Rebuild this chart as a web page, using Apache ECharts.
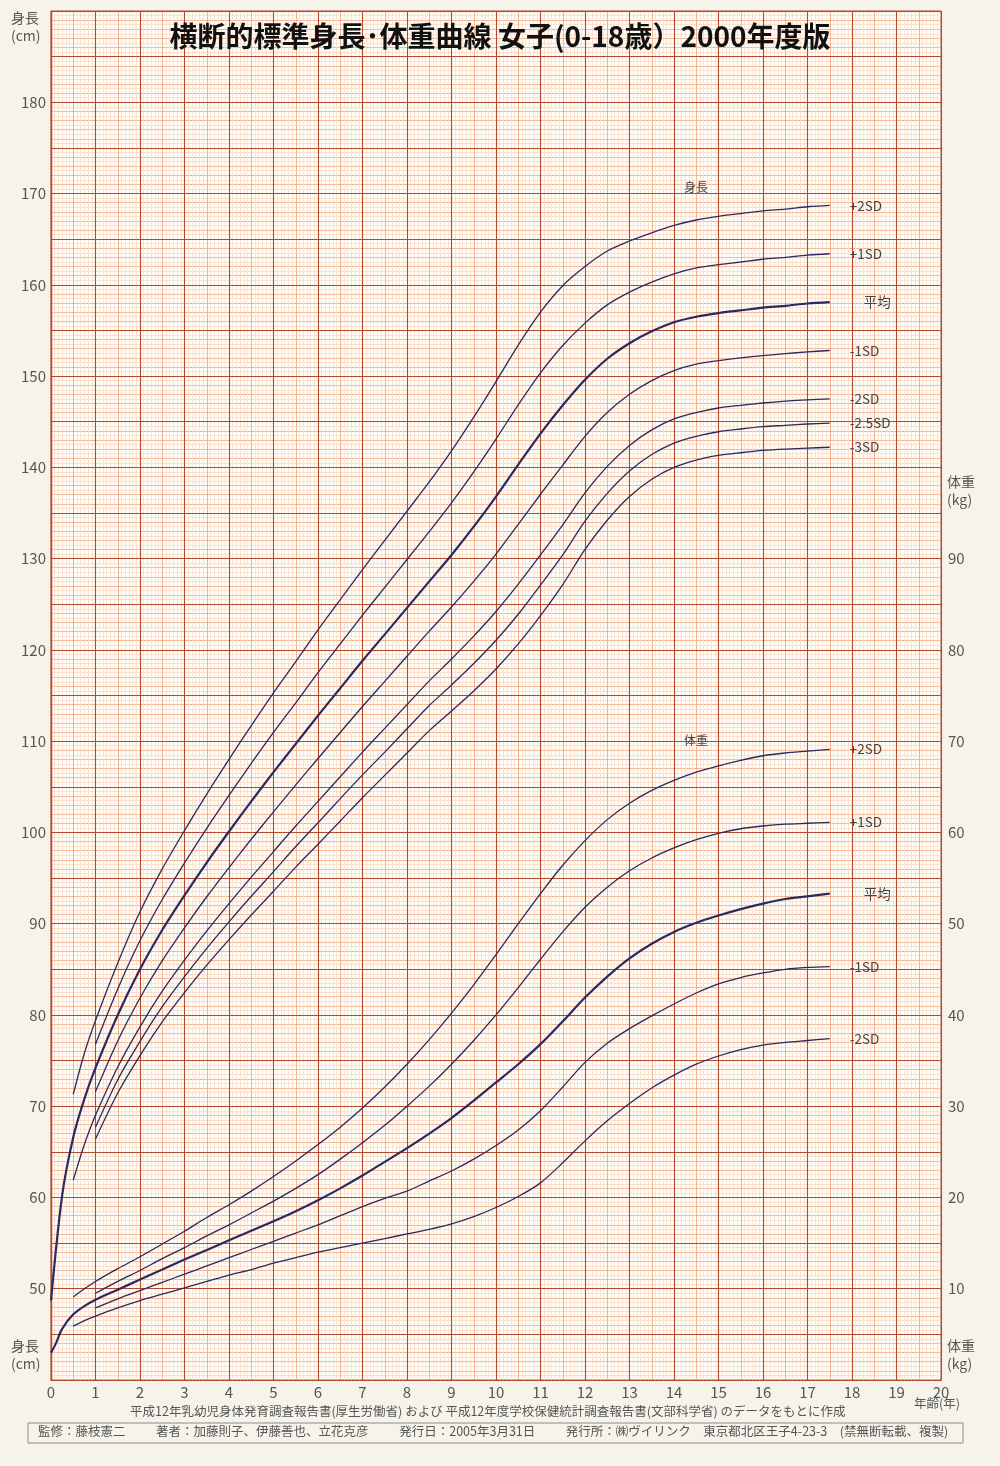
<!DOCTYPE html>
<html><head><meta charset="utf-8">
<script src="https://cdn.jsdelivr.net/npm/echarts@6/dist/echarts.min.js"></script>
<style>html,body{margin:0;padding:0;background:#f6f4ea;}#c{width:1000px;height:1466px;}</style>
</head><body><div id="c"></div>
<script>
// ---------- DATA ----------
const heightAges = [0,0.25,0.5,0.75,1,1.5,2,2.5,3,3.5,4,4.5,5,5.5,6,6.5,7,7.5,8,8.5,9,9.5,10,10.5,11,11.5,12,12.5,13,13.5,14,14.5,15,15.5,16,16.5,17,17.5];
const hP2  = [null,null,71.3,75.8,79.4,85.7,91.3,96.0,100.2,104.2,108.0,111.7,115.3,118.7,122.2,125.5,128.8,132.0,135.2,138.4,141.8,145.5,149.4,153.4,157.0,159.9,162.0,163.7,164.8,165.7,166.5,167.1,167.5,167.8,168.1,168.3,168.55,168.7];
const hP1  = [null,null,null,null,76.8,82.85,88.15,92.65,96.65,100.45,104.05,107.55,110.95,114.2,117.5,120.65,123.8,126.85,129.9,132.95,136.1,139.5,143.1,146.85,150.35,153.35,155.8,157.8,159.2,160.3,161.2,161.85,162.2,162.5,162.8,163.0,163.25,163.4];
const hM   = [48.7,60.2,66.6,70.8,74.2,80.0,85.0,89.3,93.1,96.7,100.1,103.4,106.6,109.7,112.8,115.8,118.8,121.7,124.6,127.5,130.4,133.5,136.8,140.3,143.7,146.8,149.6,151.9,153.6,154.9,155.9,156.5,156.9,157.2,157.5,157.7,157.95,158.1];
const hM1  = [null,null,null,null,71.6,77.15,81.85,85.95,89.55,92.95,96.15,99.25,102.25,105.2,108.1,110.95,113.8,116.55,119.3,122.05,124.7,127.5,130.5,133.75,137.05,140.25,143.4,146.0,148.0,149.5,150.6,151.3,151.7,152.0,152.25,152.45,152.65,152.8];
const hM2  = [null,null,61.9,65.8,69.0,74.3,78.7,82.6,86.0,89.2,92.2,95.1,97.9,100.7,103.4,106.1,108.8,111.4,114.0,116.6,119.0,121.5,124.2,127.2,130.4,133.7,137.2,140.1,142.4,144.1,145.3,146.0,146.5,146.8,147.05,147.25,147.4,147.5];
const hM25 = [null,null,null,null,67.7,72.9,77.1,80.9,84.2,87.3,90.2,93.0,95.7,98.45,101.05,103.7,106.3,108.8,111.35,113.9,116.15,118.5,121.05,123.9,127.1,130.4,134.1,137.15,139.6,141.4,142.65,143.4,143.9,144.2,144.45,144.6,144.75,144.85];
const hM3  = [null,null,null,null,66.4,71.45,75.55,79.25,82.45,85.45,88.25,90.95,93.55,96.2,98.7,101.25,103.8,106.25,108.7,111.15,113.3,115.5,117.9,120.65,123.75,127.15,131.0,134.2,136.8,138.7,140.0,140.8,141.3,141.6,141.85,142.0,142.1,142.2];
const heightNames = ['+2SD','+1SD','平均','-1SD','-2SD','-2.5SD','-3SD'];

const weightAges = [0,0.1,0.25,0.5,0.75,1,1.5,2,2.5,3,3.5,4,4.5,5,5.5,6,6.5,7,7.5,8,8.5,9,9.5,10,10.5,11,11.5,12,12.5,13,13.5,14,14.5,15,15.5,16,16.5,17,17.5];
const wP2 = [null,null,null,9.1,10.0,10.8,12.2,13.5,14.9,16.3,17.8,19.2,20.7,22.3,24.0,25.8,27.7,29.8,32.1,34.6,37.3,40.2,43.3,46.6,50.0,53.3,56.4,59.1,61.4,63.2,64.6,65.7,66.6,67.3,67.9,68.4,68.7,68.9,69.1];
const wP1 = [null,null,null,null,null,9.5,10.8,12.0,13.3,14.5,15.8,17.0,18.3,19.6,21.0,22.5,24.2,26.0,27.9,30.0,32.2,34.6,37.2,40.0,43.0,46.1,49.1,51.8,54.0,55.8,57.2,58.3,59.2,59.9,60.4,60.7,60.9,61.0,61.1];
const wM  = [3.0,3.9,5.6,7.2,8.1,8.8,9.9,11.0,12.1,13.2,14.25,15.3,16.35,17.4,18.5,19.7,21.0,22.4,23.9,25.4,27.0,28.7,30.6,32.6,34.6,36.8,39.3,41.9,44.2,46.2,47.8,49.1,50.1,50.9,51.6,52.2,52.7,53.0,53.3];
const wM1 = [null,null,null,null,null,7.9,8.9,9.8,10.7,11.6,12.5,13.4,14.3,15.2,16.1,17.0,18.0,19.0,19.9,20.7,21.8,22.9,24.2,25.7,27.4,29.5,32.1,34.8,36.9,38.5,39.9,41.2,42.4,43.4,44.1,44.6,45.0,45.2,45.3];
const wM2 = [null,null,null,5.9,6.5,7.0,7.9,8.7,9.4,10.1,10.8,11.5,12.1,12.8,13.4,14.0,14.5,15.0,15.5,16.0,16.5,17.1,17.9,18.9,20.1,21.6,23.8,26.2,28.4,30.3,32.0,33.4,34.6,35.5,36.2,36.7,37.0,37.2,37.4];
const weightNames = ['+2SD','+1SD','平均','-1SD','-2SD'];

const xTicks = [0,1,2,3,4,5,6,7,8,9,10,11,12,13,14,15,16,17,18,19,20];
const heightTickLabels = [50,60,70,80,90,100,110,120,130,140,150,160,170,180];
const weightTickLabels = [10,20,30,40,50,60,70,80,90];

// ---------- CHART ----------
const FONT = '"Noto Sans CJK JP","Noto Sans",sans-serif';
const LINE = '#2b2a5e';
function pairs(ages, vals){ return ages.map((a,i)=>vals[i]==null?null:[a,vals[i]]).filter(p=>p); }

const heightSets = [hP2,hP1,hM,hM1,hM2,hM25,hM3];
const weightSets = [wP2,wP1,wM,wM1,wM2];
const series = [];
function mk(name, yIdx, data){
  const isMean = name==='平均';
  return {type:'line', xAxisIndex:0, yAxisIndex:yIdx, data:data,
    smooth:0.3, symbol:'none', z:5, silent:true,
    lineStyle:{color:LINE, width: isMean?2.2:1.3},
    endLabel:{show:true, formatter:name, color:'#444', fontSize:13.5, fontFamily:FONT,
      distance: isMean?34:20}};
}
heightSets.forEach((v,i)=>series.push(mk(heightNames[i],0,pairs(heightAges,v))));
weightSets.forEach((v,i)=>series.push(mk(weightNames[i],1,pairs(weightAges,v))));

const chart = echarts.init(document.getElementById('c'), null, {renderer:'canvas'});
const MAJOR = '#b4492d', MID = '#f3ab87', LIGHT = '#f9dccc';
chart.setOption({
  backgroundColor:'#f6f4ea',
  animation:false,
  grid:{left:51, right:59, top:11, bottom:86, show:true, backgroundColor:'#fffdf5', borderColor:MAJOR, borderWidth:1},
  xAxis:[
    {type:'value', min:0, max:20, interval:1, position:'bottom', z:4,
     axisLine:{show:true, lineStyle:{color:MAJOR, width:1.2}}, axisTick:{show:false},
     axisLabel:{color:'#555', fontSize:15, fontFamily:FONT, margin:5,
       formatter:v=>xTicks.includes(v)?String(v):''},
     splitLine:{show:true, lineStyle:{color:MAJOR, width:1.1}}},
    {type:'value', min:0, max:20, interval:0.5, z:1,
     axisLine:{show:false}, axisTick:{show:false}, axisLabel:{show:false},
     splitLine:{show:true, lineStyle:{color:MID, width:0.9}},
     minorTick:{show:false, splitNumber:6},
     minorSplitLine:{show:true, lineStyle:{color:LIGHT, width:0.8}}}
  ],
  yAxis:[
    {type:'value', min:40, max:190, interval:5, position:'left', z:4,
     axisLine:{show:true, lineStyle:{color:MAJOR, width:1.2}}, axisTick:{show:false},
     axisLabel:{color:'#555', fontSize:15, fontFamily:FONT, margin:5,
       formatter:v=>heightTickLabels.includes(v)?String(v):''},
     splitLine:{show:true, lineStyle:{color:MAJOR, width:1.1}}},
    {type:'value', min:0, max:150, interval:5, position:'right', z:4,
     axisLine:{show:true, lineStyle:{color:MAJOR, width:1.2}}, axisTick:{show:false},
     axisLabel:{color:'#555', fontSize:15, fontFamily:FONT, margin:7,
       formatter:v=>weightTickLabels.includes(v)?String(v):''},
     splitLine:{show:false}},
    {type:'value', min:40, max:190, interval:1, position:'left', z:1,
     axisLine:{show:false}, axisTick:{show:false}, axisLabel:{show:false},
     splitLine:{show:true, lineStyle:{color:MID, width:0.9}},
     minorTick:{show:false, splitNumber:2},
     minorSplitLine:{show:true, lineStyle:{color:LIGHT, width:0.8}}}
  ],
  series: series,
  graphic:[
    {type:'text', left:'center', top:22, style:{text:'横断的標準身長･体重曲線 女子(0-18歳）2000年度版', font:'bold 28px '+FONT, fill:'#111'}, z:10},
    {type:'text', left:11, top:9, style:{text:'身長\n(cm)', font:'14px '+FONT, fill:'#555', lineHeight:18}, z:10},
    {type:'text', left:11, top:1337, style:{text:'身長\n(cm)', font:'14px '+FONT, fill:'#555', lineHeight:18}, z:10},
    {type:'text', left:947, top:473, style:{text:'体重\n(kg)', font:'14px '+FONT, fill:'#555', lineHeight:18}, z:10},
    {type:'text', left:947, top:1337, style:{text:'体重\n(kg)', font:'14px '+FONT, fill:'#555', lineHeight:18}, z:10},
    {type:'text', left:684, top:181, style:{text:'身長', font:'12px '+FONT, fill:'#444'}, z:10},
    {type:'text', left:684, top:734, style:{text:'体重', font:'12px '+FONT, fill:'#444'}, z:10},
    {type:'text', left:914, top:1397, style:{text:'年齢(年)', font:'12.5px '+FONT, fill:'#555'}, z:10},
    {type:'text', left:130, top:1405, style:{text:'平成12年乳幼児身体発育調査報告書(厚生労働省) および 平成12年度学校保健統計調査報告書(文部科学省) のデータをもとに作成', font:'12.5px '+FONT, fill:'#555'}, z:10},
    {type:'rect', shape:{x:28, y:1423, width:935, height:20}, style:{fill:'none', stroke:'#8a8a8a', lineWidth:1}, z:10},
    {type:'text', left:38, top:1425, style:{text:'監修：藤枝憲二　　  著者：加藤則子、伊藤善也、立花克彦　　  発行日：2005年3月31日　　  発行所：㈱ヴイリンク　東京都北区王子4-23-3　(禁無断転載、複製)', font:'12.5px '+FONT, fill:'#555'}, z:10}
  ]
});
</script></body></html>
